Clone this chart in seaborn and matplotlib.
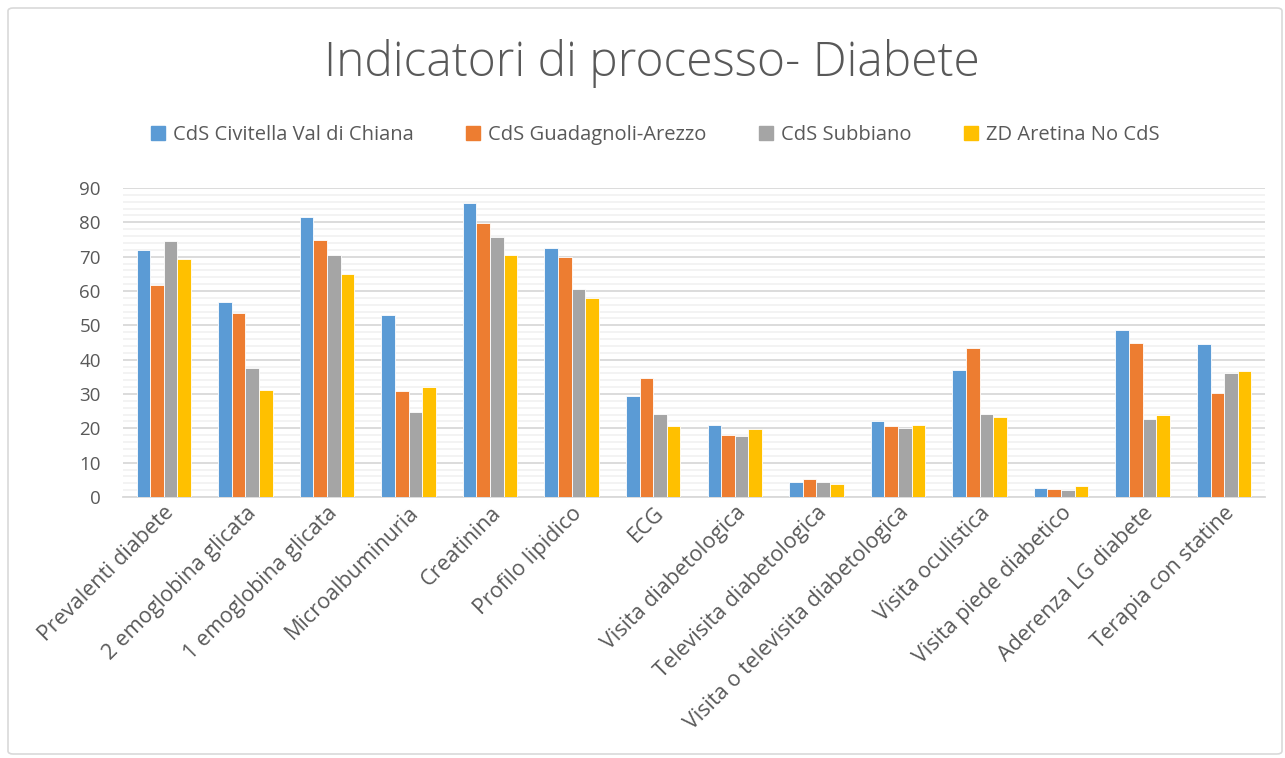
import pandas as pd
import numpy as np
import matplotlib.pyplot as plt
import matplotlib.patches as mpatches
import seaborn as sns

# Indicatori (asse x)
indicatori = [
    "Prevalenti diabete", "2 emoglobina glicata", "1 emoglobina glicata",
    "Microalbuminuria", "Creatinina", "Profilo lipidico", "ECG",
    "Visita diabetologica", "Televisita diabetologica",
    "Visita o televisita diabetologica", "Visita oculistica",
    "Visita piede diabetico", "Aderenza LG diabete", "Terapia con statine",
]

# Serie
civitella = [72.0, 56.8, 81.6, 52.9, 85.5, 72.6, 29.4, 21.0, 4.4, 22.0, 36.9, 2.5, 48.7, 44.6]
guadagnoli = [61.7, 53.7, 74.9, 31.0, 79.9, 70.0, 34.7, 18.0, 5.1, 20.6, 43.3, 2.3, 44.8, 30.3]
subbiano = [74.7, 37.5, 70.6, 24.8, 75.7, 60.7, 24.2, 17.7, 4.5, 20.1, 24.3, 1.9, 22.7, 36.1]
zd_aretina = [69.3, 31.3, 64.9, 31.9, 70.4, 58.1, 20.8, 19.8, 3.8, 21.0, 23.2, 3.2, 23.9, 36.8]

serie = ["CdS Civitella Val di Chiana", "CdS Guadagnoli-Arezzo", "CdS Subbiano", "ZD Aretina No CdS"]
colori = ["#5B9BD5", "#ED7D31", "#A5A5A5", "#FFC000"]

# Tabella in formato lungo per seaborn
df = pd.DataFrame({
    "indicatore": indicatori * 4,
    "serie": [s for s in serie for _ in indicatori],
    "valore": civitella + guadagnoli + subbiano + zd_aretina,
})

sns.set_style("white")
plt.rcParams["font.family"] = ["Open Sans", "DejaVu Sans"]
testo = "#595959"

fig = plt.figure(figsize=(12.85, 7.58), dpi=100)
ax = fig.add_axes([123 / 1285, 1 - 497 / 758, (1265 - 123) / 1285, (497 - 188) / 758])

sns.barplot(data=df, x="indicatore", y="valore", hue="serie", order=indicatori,
            hue_order=serie, palette=colori, saturation=1, width=0.667, gap=0,
            edgecolor="white", linewidth=0.6, ax=ax, legend=False, zorder=3)

# Griglia principale e secondaria
ax.set_ylim(0, 90)
ax.set_yticks(np.arange(0, 91, 10))
ax.set_yticks(np.arange(0, 91, 2), minor=True)
ax.grid(axis="y", which="major", color="#D9D9D9", linewidth=1.3, zorder=0)
ax.grid(axis="y", which="minor", color="#F2F2F2", linewidth=1.3, zorder=0)
ax.set_axisbelow(True)
for s in ["top", "right", "left"]:
    ax.spines[s].set_visible(False)
ax.spines["bottom"].set_color("#D9D9D9")
ax.spines["bottom"].set_linewidth(1.3)
ax.tick_params(axis="both", which="both", length=0, colors=testo)
ax.tick_params(axis="y", labelsize=13.5, pad=16)
ax.tick_params(axis="x", labelsize=15.5, pad=4)
ax.set_xlim(-0.5, len(indicatori) - 0.5)
plt.setp(ax.get_xticklabels(), rotation=45, ha="right", rotation_mode="anchor")
ax.set_xlabel("")
ax.set_ylabel("")

# Titolo e legenda
fig.text(0.507, 1 - 63 / 758, "Indicatori di processo- Diabete", ha="center", va="center",
         fontsize=34.5, color=testo, fontweight="light")
handles = [mpatches.Patch(color=c, label=s) for c, s in zip(colori, serie)]
fig.legend(handles=handles, loc="center", bbox_to_anchor=(0.51, 1 - 135 / 758), ncol=4,
           frameon=False, fontsize=14.5, handlelength=0.7, handleheight=0.7,
           handletextpad=0.4, columnspacing=2.6, labelcolor=testo)

# Cornice del grafico
fig.patches.append(mpatches.FancyBboxPatch((8 / 1285, 4 / 758), 1274 / 1285, 746 / 758,
                                           boxstyle="round,pad=0,rounding_size=0.004",
                                           transform=fig.transFigure, fill=False,
                                           edgecolor="#D9D9D9", linewidth=1.2))

fig.savefig("out.png", dpi=100)
